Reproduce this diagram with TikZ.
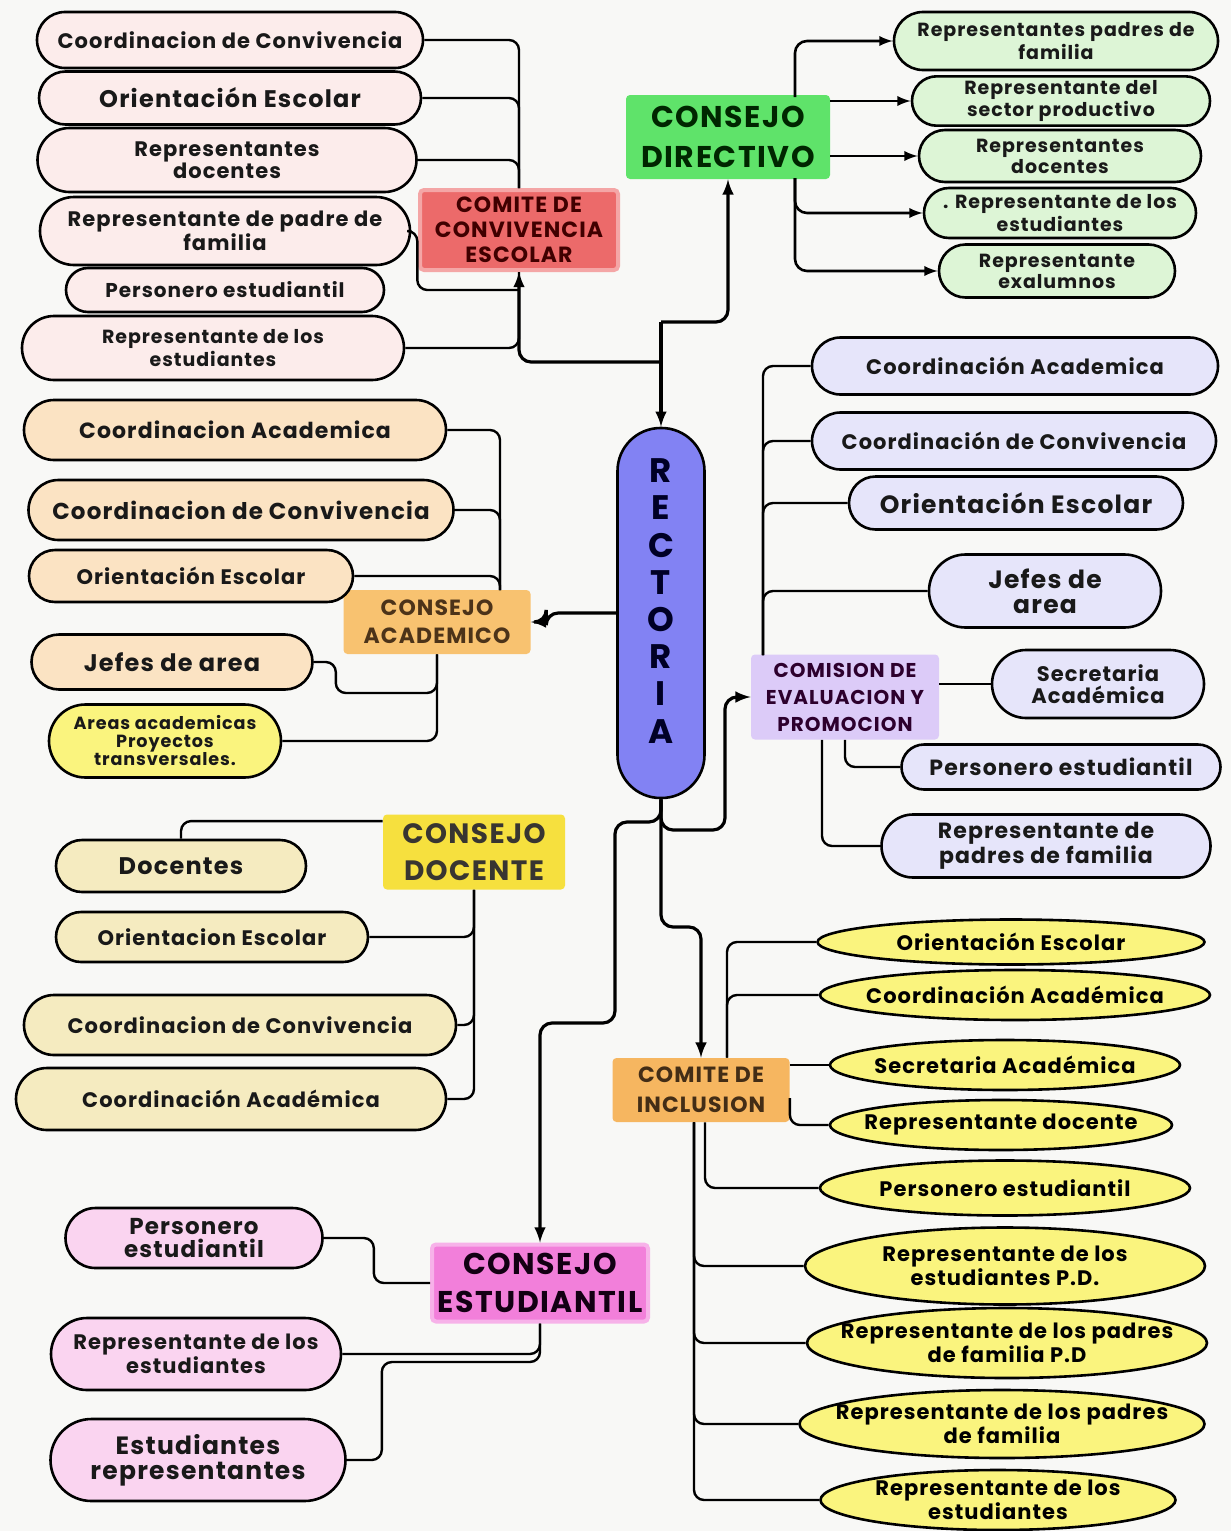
\documentclass[tikz,border=0pt]{standalone}
\usepackage{fontspec}
\newfontfamily\pop[LetterSpace=5]{Poppins}
\usetikzlibrary{shapes.misc,shapes.geometric,calc,arrows}
\newcommand\fsz[2]{\fontsize{#1}{#2}\selectfont}
\definecolor{pkf}{HTML}{FCECEB}
\definecolor{grf}{HTML}{DDF5D6}
\definecolor{pef}{HTML}{FBE3C3}
\definecolor{crf}{HTML}{F5EBC0}
\definecolor{lvf}{HTML}{E6E5FA}
\definecolor{ylf}{HTML}{FAF47E}
\definecolor{mgf}{HTML}{FAD4F0}
\definecolor{redh}{HTML}{EC6A6A}
\definecolor{grnh}{HTML}{5FE36A}
\definecolor{orah}{HTML}{F8C270}
\definecolor{yelh}{HTML}{F6E03E}
\definecolor{purh}{HTML}{DCCBF8}
\definecolor{inch}{HTML}{F6B660}
\definecolor{pnkh}{HTML}{F27FDA}
\definecolor{rectc}{HTML}{8282F3}
\definecolor{bgc}{HTML}{F8F8F6}
\begin{document}
\begin{tikzpicture}[x=0.5pt,y=-0.5pt,
box/.style={rounded rectangle,draw,line width=1.3pt,align=center,inner sep=2pt,text=black!90,font=\pop\bfseries\fsz{10.5}{11}},
pk/.style={box,fill=pkf},
gr/.style={box,fill=grf,font=\pop\bfseries\fsz{9.5}{9.5}},
pe/.style={box,fill=pef},
cr/.style={box,fill=crf},
lv/.style={box,fill=lvf},
mg/.style={box,fill=mgf},
el/.style={ellipse,draw,line width=1.3pt,fill=ylf,align=center,inner xsep=-30pt,inner ysep=-6pt,font=\pop\bfseries\fsz{10.5}{11}},
head/.style={rectangle,rounded corners=2pt,align=center,inner sep=2pt,font=\pop\bfseries},
ln/.style={line width=1.2pt,rounded corners=5pt},
arr/.style={line width=1.6pt,rounded corners=6pt,-latex}]
\useasboundingbox[fill=bgc] (0,0) rectangle (1231,1531);

% comite de convivencia
\node[head,fill=redh,draw=redh!60,line width=2pt,text=red!25!black,minimum width=99pt,minimum height=40pt,font=\pop\bfseries\fsz{11}{12.5}] (cc) at (519,230) {COMITE DE\\CONVIVENCIA\\ESCOLAR};
\node[pk,minimum width=197pt,minimum height=28pt] (cv1) at (230,40) {Coordinacion de Convivencia};
\node[pk,minimum width=195pt,minimum height=26.5pt,font=\pop\bfseries\fsz{12}{12.5}] (cv2) at (230,98) {Orientación Escolar};
\node[pk,minimum width=193.5pt,minimum height=32pt] (cv3) at (227,160) {Representantes\\docentes};
\node[pk,minimum width=189pt,minimum height=34pt] (cv4) at (225,231) {Representante de padre de\\familia};
\node[pk,minimum width=163pt,minimum height=22pt,font=\pop\bfseries\fsz{10}{10.5}] (cv5) at (225,290) {Personero estudiantil};
\node[pk,minimum width=195pt,minimum height=32pt,font=\pop\bfseries\fsz{9.5}{10}] (cv6) at (213,348) {Representante de los\\estudiantes};
\foreach \T in {1,2,3} {\draw[ln] (cv\T.east) -| (cc.north);}
\foreach \T in {6} {\draw[ln] (cv\T.east) -| (cc.south);}
\draw[ln] (cv4.east) -- ++(6,0) |- (cv5.east -| cc.south);

% consejo directivo
\node[head,fill=grnh,text=green!15!black,minimum width=102pt,minimum height=42pt,font=\pop\bfseries\fsz{15}{20}] (dir) at (728,137) {CONSEJO\\DIRECTIVO};
\node[gr,minimum width=166pt,minimum height=29pt] (gd1) at (1056,41) {Representantes padres de\\familia};
\node[gr,minimum width=153pt,minimum height=23pt] (gd2) at (1061,101) {Representante del\\sector productivo};
\node[gr,minimum width=145pt,minimum height=26pt] (gd3) at (1060,156) {Representantes\\docentes};
\node[gr,minimum width=140pt,minimum height=25pt] (gd4) at (1060,213) {. Representante de los\\estudiantes};
\node[gr,minimum width=122pt,minimum height=26.5pt] (gd5) at (1057,271) {Representante\\exalumnos};
\coordinate (bdt) at (795,97);
\coordinate (bdb) at (795,178);
\draw[arr,line width=1.3pt] (bdt) |- (gd1.west);
\draw[arr,line width=1.3pt] (gd2.west -| dir.east) -- (gd2.west);
\draw[arr,line width=1.3pt] (gd3.west -| dir.east) -- (gd3.west);
\draw[arr,line width=1.3pt] (bdb) |- (gd4.west);
\draw[arr,line width=1.3pt] (bdb) |- (gd5.west);

% rectoria
\node[rectangle,rounded corners=21.5pt,draw,line width=1.3pt,fill=rectc,minimum width=43.5pt,minimum height=185pt,
  label={[align=center,text=blue!15!black,font=\pop\bfseries\fsz{17}{18.6},yshift=6pt]center:{R\\E\\C\\T\\O\\R\\I\\A}}] (rect) at (661,613) {};
\coordinate (jd) at (661,322);
\coordinate (jt) at (661,362);
\draw[arr] (jd) -- (rect.north);
\draw[arr] (jt) -| (cc.south);
\draw[arr] (jd) -| (dir.south);

% consejo academico
\node[head,fill=orah,text=brown!40!black,minimum width=93.5pt,minimum height=32pt,font=\pop\bfseries\fsz{11}{14}] (ac) at (437,622) {CONSEJO\\ACADEMICO};
\node[pe,minimum width=215pt,minimum height=30pt,font=\pop\bfseries\fsz{11}{12}] (ca1) at (235,430) {Coordinacion Academica};
\node[pe,minimum width=216.5pt,minimum height=30pt,font=\pop\bfseries\fsz{11.5}{12}] (ca2) at (241,510) {Coordinacion de Convivencia};
\node[pe,minimum width=166pt,minimum height=26pt] (ca3) at (191,576) {Orientación Escolar};
\node[pe,minimum width=144.5pt,minimum height=27.5pt,font=\pop\bfseries\fsz{12}{12.5}] (ca4) at (172,662) {Jefes de area};
\node[box,fill=ylf,minimum width=120pt,minimum height=36.5pt,font=\pop\bfseries\fsz{8.8}{9}] (ca5) at (165,741) {Areas academicas\\Proyectos\\transversales.};
\coordinate (bat) at (500,590);
\foreach \T in {1,2,3} {\draw[ln] (ca\T.east) -| (bat);}
\draw[ln] (ca4.east) -- ++(22,0) |- (ac.south |- 0,693) -- (ac.south);
\draw[ln] (ca5.east) -| (ac.south);
\draw[arr] (rect.west |- 0,613) -- ++(-70,0) |- (ac.east);

% consejo docente
\node[head,fill=yelh,text=yellow!10!black,minimum width=91pt,minimum height=37.5pt,font=\pop\bfseries\fsz{14}{18.5}] (dc) at (474,852) {CONSEJO\\DOCENTE};
\node[cr,minimum width=129pt,minimum height=26pt,font=\pop\bfseries\fsz{12}{12.5}] (cd1) at (181,866) {Docentes};
\node[cr,minimum width=160pt,minimum height=25pt] (cd2) at (212,937) {Orientacion Escolar};
\node[cr,minimum width=220pt,minimum height=30pt] (cd3) at (240,1025) {Coordinacion de Convivencia};
\node[cr,minimum width=219pt,minimum height=31pt] (cd4) at (231,1099) {Coordinación Académica};
\draw[ln] (cd1.north) |- ($(dc.north west)+(0,7)$);
\foreach \T in {2,3,4} {\draw[ln] (cd\T.east) -| (dc.south);}

% comision de evaluacion y promocion
\node[head,fill=purh,text=violet!35!black,minimum width=94pt,minimum height=42.5pt,font=\pop\bfseries\fsz{10}{13.5}] (cm) at (845,697) {COMISION DE\\EVALUACION Y\\PROMOCION};
\node[lv,minimum width=207pt,minimum height=28.5pt] (ce1) at (1015,366) {Coordinación Academica};
\node[lv,minimum width=206pt,minimum height=28.5pt] (ce2) at (1014,441) {Coordinación de Convivencia};
\node[lv,minimum width=171pt,minimum height=26.5pt,font=\pop\bfseries\fsz{12.5}{13}] (ce3) at (1016,503) {Orientación Escolar};
\node[lv,minimum width=120pt,minimum height=36.5pt,font=\pop\bfseries\fsz{12.5}{12.5}] (ce4) at (1045,591) {Jefes de\\area};
\node[lv,minimum width=110pt,minimum height=34pt] (ce5) at (1098,684) {Secretaria\\Académica};
\node[lv,minimum width=163.5pt,minimum height=22.5pt,font=\pop\bfseries\fsz{11}{11.5}] (ce6) at (1061,767) {Personero estudiantil};
\node[lv,minimum width=168.5pt,minimum height=31.5pt,font=\pop\bfseries\fsz{11}{11.5}] (ce7) at (1046,846) {Representante de\\padres de familia};
\coordinate (bct) at (763,655);
\foreach \T in {1,2,3,4} {\draw[ln] (ce\T.west) -| (bct);}
\draw[ln] (ce5.west -| cm.east) -- (ce5.west);
\draw[ln] (cm.south) |- (ce6.west);
\draw[ln] (cm.south -| 822,0) |- (ce7.west);
\draw[arr] (rect.south) |- (725,830) |- (cm.west);

% comite de inclusion
\node[head,fill=inch,text=brown!35!black,minimum width=88.5pt,minimum height=32pt,font=\pop\bfseries\fsz{11}{15}] (in) at (701,1090) {COMITE DE\\INCLUSION};
\node[el,minimum width=193.5pt,minimum height=22.5pt] (ci1) at (1011,942) {Orientación Escolar};
\node[el,minimum width=195pt,minimum height=25pt] (ci2) at (1015,995) {Coordinación Académica};
\node[el,minimum width=175pt,minimum height=25pt] (ci3) at (1005,1065) {Secretaria Académica};
\node[el,minimum width=171pt,minimum height=25pt] (ci4) at (1001,1125) {Representante docente};
\node[el,minimum width=185pt,minimum height=27.5pt] (ci5) at (1005,1188) {Personero estudiantil};
\node[el,minimum width=200pt,minimum height=38.5pt] (ci6) at (1005,1266) {Representante de los\\estudiantes P.D.};
\node[el,minimum width=200pt,minimum height=35pt] (ci7) at (1007,1343) {Representante de los padres\\de familia P.D};
\node[el,minimum width=202.5pt,minimum height=34pt] (ci8) at (1002,1424) {Representante de los padres\\de familia};
\node[el,minimum width=177.5pt,minimum height=30pt] (ci9) at (998,1500) {Representante de los\\estudiantes};
\draw[ln] (ci1.west) -| (in.north -| 727,0);
\draw[ln] (ci2.west) -| (in.north -| 727,0);
\draw[ln] (ci3.west -| in.east) -- (ci3.west);
\draw[ln] ($(in.east)+(0,8)$) |- (ci4.west);
\draw[ln] ($(in.south)+(4,0)$) |- (ci5.west);
\foreach \T in {6,7,8,9} {\draw[ln] ($(in.south)+(-7,0)$) |- (ci\T.west);}
\draw[arr] (rect.south) |- (in.north |- 0,927) -- (in.north);

% consejo estudiantil
\node[head,fill=pnkh,draw=pnkh!60,line width=2pt,text=violet!15!black,minimum width=108pt,minimum height=38.5pt,font=\pop\bfseries\fsz{15}{19}] (et) at (540,1283) {CONSEJO\\ESTUDIANTIL};
\node[mg,minimum width=132.5pt,minimum height=30pt,font=\pop\bfseries\fsz{11.5}{11.5}] (es1) at (194,1238) {Personero\\estudiantil};
\node[mg,minimum width=149pt,minimum height=36pt] (es2) at (196,1354) {Representante de los\\estudiantes};
\node[mg,minimum width=151.5pt,minimum height=41pt,font=\pop\bfseries\fsz{12.5}{12.5}] (es3) at (198,1460) {Estudiantes\\representantes};
\draw[ln] (es1.east) -- ++(50,0) |- (et.west);
\draw[ln] (es2.east) -| (et.south);
\draw[ln] (es3.east) -- ++(35,0) |- (et.south |- 0,1362) -- (et.south);
\draw[arr] (rect.south) |- (615,822) |- (et.north |- 0,1023) -- (et.north);
\end{tikzpicture}
\end{document}
